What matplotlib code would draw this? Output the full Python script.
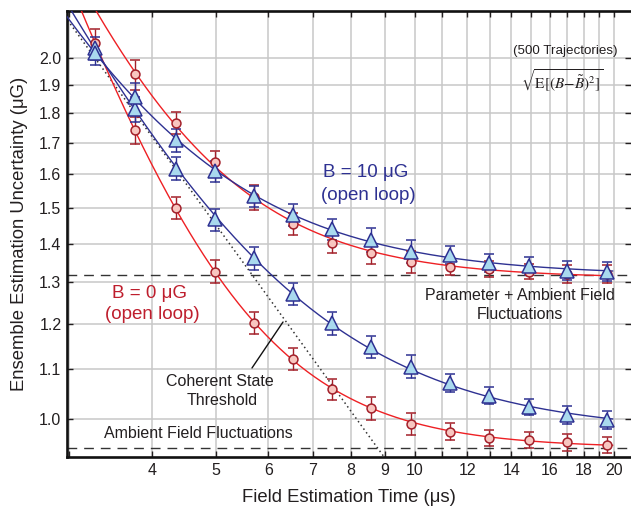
import numpy as np
import matplotlib
matplotlib.use('Agg')
import matplotlib.pyplot as plt
from matplotlib.ticker import FixedLocator, FixedFormatter, NullLocator

plt.rcParams['font.family'] = ['Liberation Sans', 'DejaVu Sans']
plt.rcParams['mathtext.fontset'] = 'stix'

# ---------------- data ----------------
time_us = [3.28, 3.77, 4.35, 4.98, 5.71, 6.55, 7.49, 8.57, 9.88, 11.3, 12.95, 14.86, 16.99, 19.52]

b0_red = [2.06, 1.742, 1.500, 1.327, 1.202, 1.121, 1.058, 1.020, 0.989, 0.975, 0.964, 0.960, 0.955, 0.950]
b0_red_err = [0.055, 0.045, 0.033, 0.029, 0.026, 0.024, 0.022, 0.022, 0.021, 0.016, 0.015, 0.015, 0.015, 0.015]

b0_blue = [2.04, 1.813, 1.618, 1.467, 1.361, 1.271, 1.201, 1.148, 1.105, 1.071, 1.045, 1.023, 1.007, 0.997]
b0_blue_err = [0.045, 0.042, 0.035, 0.031, 0.029, 0.028, 0.026, 0.024, 0.024, 0.018, 0.017, 0.016, 0.017, 0.017]

b10_red_time = time_us[1:]
b10_red = [1.939, 1.767, 1.638, 1.531, 1.455, 1.403, 1.374, 1.352, 1.339, 1.333, 1.327, 1.321, 1.321]
b10_red_err = [0.056, 0.037, 0.034, 0.037, 0.030, 0.028, 0.028, 0.028, 0.020, 0.020, 0.020, 0.022, 0.022]

b10_blue = [2.02, 1.858, 1.709, 1.609, 1.534, 1.480, 1.439, 1.410, 1.379, 1.370, 1.350, 1.341, 1.329, 1.327]
b10_blue_err = [0.045, 0.050, 0.038, 0.033, 0.031, 0.031, 0.030, 0.032, 0.030, 0.024, 0.023, 0.024, 0.024, 0.024]

ambient_level = 0.944
param_ambient_level = 1.318

threshold_ref_time = 4.98
threshold_ref_value = 1.456
threshold_slope = -0.7625

x_ticks = list(range(3, 21))
x_tick_labels = ['' if t in (3, 11, 13, 15, 17, 19) else str(t) for t in x_ticks]
y_ticks = [1.0, 1.1, 1.2, 1.3, 1.4, 1.5, 1.6, 1.7, 1.8, 1.9, 2.0]
y_tick_labels = ['%.1f' % v for v in y_ticks]

# ---------------- styles ----------------
red_line = '#EE2024'
red_edge = '#A3202A'
red_face = '#F8C6C0'
blue_line = '#2E3192'
blue_face = '#A9D9EE'
red_text = '#BE1E2D'
blue_text = '#2E3192'
gray_text = '#231F20'


def fit_curve(t, v):
    t = np.asarray(t, float)
    v = np.asarray(v, float)
    best = None
    for p in np.linspace(0.3, 6.0, 571):
        A = np.column_stack([np.ones_like(t), t ** -p])
        coef, *_ = np.linalg.lstsq(A, v ** 2, rcond=None)
        model = A @ coef
        if np.any(model <= 0):
            continue
        res = np.sum((0.5 * np.log(model) - np.log(v)) ** 2)
        if best is None or res < best[0]:
            best = (res, p, coef)
    _, p, (c, a) = best
    return lambda tt: np.sqrt(np.clip(c + a * tt ** -p, 1e-6, None))


fig = plt.figure(figsize=(6.31, 5.08), dpi=100)
ax = fig.add_axes([67 / 631, 51 / 508, 564 / 631, 446 / 508])
ax.set_xscale('log')
ax.set_yscale('log')
ax.set_xlim(2.976, 21.23)
ax.set_ylim(0.9286, 2.191)

ax.xaxis.set_major_locator(FixedLocator(x_ticks))
ax.xaxis.set_major_formatter(FixedFormatter(x_tick_labels))
ax.xaxis.set_minor_locator(NullLocator())
ax.yaxis.set_major_locator(FixedLocator(y_ticks))
ax.yaxis.set_major_formatter(FixedFormatter(y_tick_labels))
ax.yaxis.set_minor_locator(NullLocator())

ax.grid(True, which='major', color='#C8C8C8', lw=1.1, zorder=0)
ax.set_axisbelow(True)

ax.tick_params(which='major', direction='in', length=4, width=1.0, top=True, right=True,
               labelsize=11.5, colors='#231F20', pad=4)
for s in ('left', 'bottom', 'top'):
    ax.spines[s].set_linewidth(1.9)
    ax.spines[s].set_color('#111111')
ax.spines['right'].set_visible(False)

# reference lines
for lvl in (ambient_level, param_ambient_level):
    ax.axhline(lvl, color='#333333', lw=1.0, dashes=(7, 5), zorder=2)

tt = np.geomspace(2.9, 10.5, 200)
ax.plot(tt, threshold_ref_value * (tt / threshold_ref_time) ** threshold_slope,
        color='#333333', lw=1.1, ls=(0, (1, 2)), zorder=2)

# fitted curves
for t, v, col in ((time_us, b0_red, red_line), (time_us, b0_blue, blue_line),
                  (b10_red_time, b10_red, red_line), (time_us, b10_blue, blue_line)):
    f = fit_curve(t, v)
    tc = np.geomspace(2.9, t[-1] * 1.02, 400)
    ax.plot(tc, f(tc), color=col, lw=1.0, zorder=3)

# data points
ekw = dict(elinewidth=1.0, capsize=3.6, capthick=1.0, zorder=4, ls='none')
ax.errorbar(time_us, b0_red, yerr=b0_red_err, fmt='o', ms=6.4, mfc=red_face, mec=red_edge,
            mew=1.1, ecolor=red_edge, **ekw)
ax.errorbar(b10_red_time, b10_red, yerr=b10_red_err, fmt='o', ms=6.4, mfc=red_face, mec=red_edge,
            mew=1.1, ecolor=red_edge, **ekw)
ax.errorbar(time_us, b0_blue, yerr=b0_blue_err, fmt='^', ms=9.5, mfc=blue_face, mec=blue_line,
            mew=1.1, ecolor=blue_line, **ekw)
ax.errorbar(time_us, b10_blue, yerr=b10_blue_err, fmt='^', ms=9.5, mfc=blue_face, mec=blue_line,
            mew=1.1, ecolor=blue_line, **ekw)

# texts
T = ax.transAxes
ax.text(0.5293, 0.6374, 'B = 10 \u03bcG', color=blue_text, fontsize=13.5, ha='center', va='center', transform=T)
ax.text(0.534, 0.5874, '(open loop)', color=blue_text, fontsize=13.5, ha='center', va='center', transform=T)
ax.text(0.1466, 0.367, 'B = 0 \u03bcG', color=red_text, fontsize=13.5, ha='center', va='center', transform=T)
ax.text(0.152, 0.3184, '(open loop)', color=red_text, fontsize=13.5, ha='center', va='center', transform=T)
ax.text(0.2704, 0.1704, 'Coherent State', color=gray_text, fontsize=11.5, ha='center', va='center', transform=T)
ax.text(0.2743, 0.1278, 'Threshold', color=gray_text, fontsize=11.5, ha='center', va='center', transform=T)
ax.text(0.2323, 0.0516, 'Ambient Field Fluctuations', color=gray_text, fontsize=11.5, ha='center', va='center', transform=T)
ax.text(0.8032, 0.361, 'Parameter + Ambient Field', color=gray_text, fontsize=11.5, ha='center', va='center', transform=T)
ax.text(0.8037, 0.32, 'Fluctuations', color=gray_text, fontsize=11.5, ha='center', va='center', transform=T)
ax.text(0.883, 0.911, '(500 Trajectories)', color=gray_text, fontsize=9.6, ha='center', va='center', transform=T)
ax.text(0.8777, 0.8453, r'$\sqrt{\mathrm{E}[(B\mathrm{-}\tilde{B})^2]}$', color=gray_text, fontsize=11,
        ha='center', va='center', transform=T)
ax.annotate('', xy=(0.383, 0.3027), xytext=(0.328, 0.1996), xycoords='axes fraction',
            arrowprops=dict(arrowstyle='-', color='#111111', lw=1.0, shrinkA=0, shrinkB=0))

ax.set_xlabel('Field Estimation Time (\u03bcs)', fontsize=13.3, color=gray_text, labelpad=8)
ax.set_ylabel('Ensemble Estimation Uncertainty (\u03bcG)', fontsize=13.3, color=gray_text, labelpad=8)

fig.savefig('out.png', dpi=100)
